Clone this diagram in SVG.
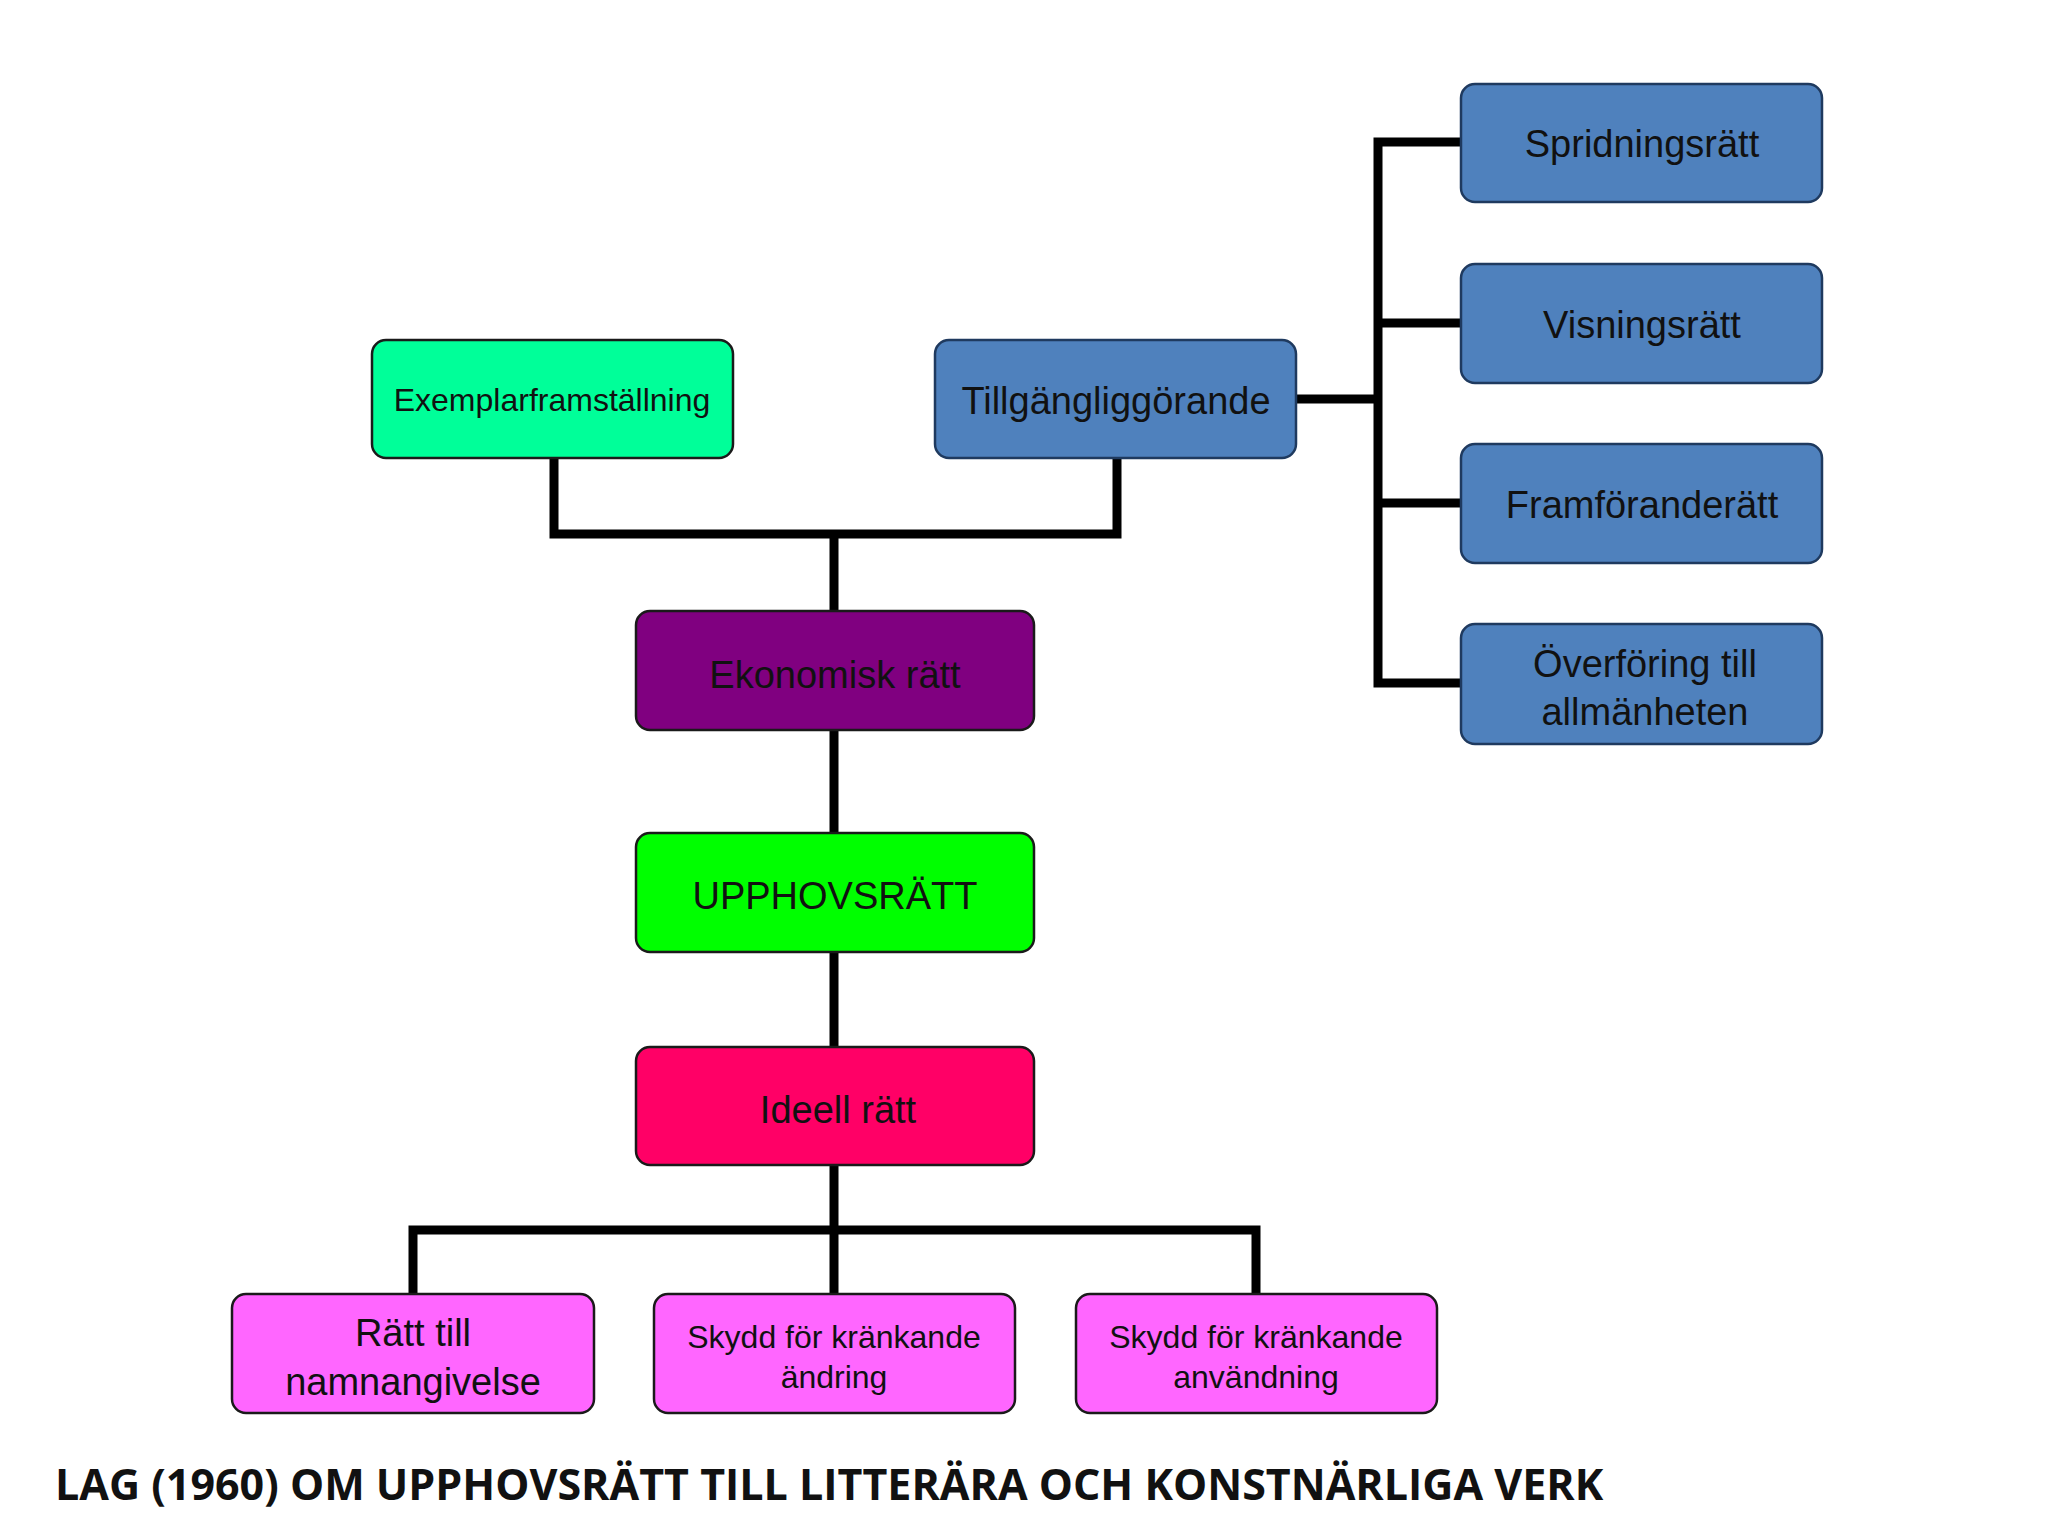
<svg xmlns="http://www.w3.org/2000/svg" width="2048" height="1536" viewBox="0 0 2048 1536">
<style>
.n{stroke:#1a1a1a;stroke-width:2.5}
.b{fill:#4F81BD;stroke:#1F3A5F;stroke-width:2.5}
.t{font-family:"Liberation Sans",Arial,sans-serif;font-size:38px;fill:#111;text-anchor:middle}
.s{font-size:32px}
.c{stroke:#000;stroke-width:9;fill:none}
</style>
<rect width="2048" height="1536" fill="#fff"/>
<g id="connectors">
<path class="c" d="M554 458V534H1117V458M834 534V611M834 730V833M834 952V1047M834 1165V1230M413 1294V1230H1256V1294M834 1230V1294"/>
<path class="c" d="M1296 399H1378" stroke-width="12"/>
<path class="c" d="M1461 142H1378V683H1461M1378 323H1461M1378 503H1461"/>
</g>
<g id="spridning"><rect class="b" x="1461" y="84" width="361" height="118" rx="14"/><text class="t" x="1642" y="157">Spridningsrätt</text></g>
<g id="visning"><rect class="b" x="1461" y="264" width="361" height="119" rx="14"/><text class="t" x="1642" y="338">Visningsrätt</text></g>
<g id="framforande"><rect class="b" x="1461" y="444" width="361" height="119" rx="14"/><text class="t" x="1642" y="518">Framföranderätt</text></g>
<g id="overforing"><rect class="b" x="1461" y="624" width="361" height="120" rx="14"/><text class="t" x="1645" y="677">Överföring till</text><text class="t" x="1645" y="725">allmänheten</text></g>
<g id="exemplar"><rect class="n" fill="#00FF99" x="372" y="340" width="361" height="118" rx="14"/><text class="t s" x="552" y="411">Exemplarframställning</text></g>
<g id="tillgang"><rect class="b" x="935" y="340" width="361" height="118" rx="14"/><text class="t" x="1116" y="414">Tillgängliggörande</text></g>
<g id="ekonomisk"><rect class="n" fill="#800080" x="636" y="611" width="398" height="119" rx="14"/><text class="t" x="835" y="688">Ekonomisk rätt</text></g>
<g id="upphovsratt"><rect class="n" fill="#00FF00" x="636" y="833" width="398" height="119" rx="14"/><text class="t" x="835" y="909">UPPHOVSRÄTT</text></g>
<g id="ideell"><rect class="n" fill="#FF0066" x="636" y="1047" width="398" height="118" rx="14"/><text class="t" x="838" y="1123">Ideell rätt</text></g>
<g id="namn"><rect class="n" fill="#FF66FF" x="232" y="1294" width="362" height="119" rx="14"/><text class="t" x="413" y="1346">Rätt till</text><text class="t" x="413" y="1395">namnangivelse</text></g>
<g id="andring"><rect class="n" fill="#FF66FF" x="654" y="1294" width="361" height="119" rx="14"/><text class="t s" x="834" y="1348">Skydd för kränkande</text><text class="t s" x="834" y="1388">ändring</text></g>
<g id="anvandning"><rect class="n" fill="#FF66FF" x="1076" y="1294" width="361" height="119" rx="14"/><text class="t s" x="1256" y="1348">Skydd för kränkande</text><text class="t s" x="1256" y="1388">användning</text></g>
<text x="55" y="1500" font-family="'Open Sans','Liberation Sans',sans-serif" font-weight="bold" font-size="43" fill="#111">LAG (1960) OM UPPHOVSRÄTT TILL LITTERÄRA OCH KONSTNÄRLIGA VERK</text>
</svg>
